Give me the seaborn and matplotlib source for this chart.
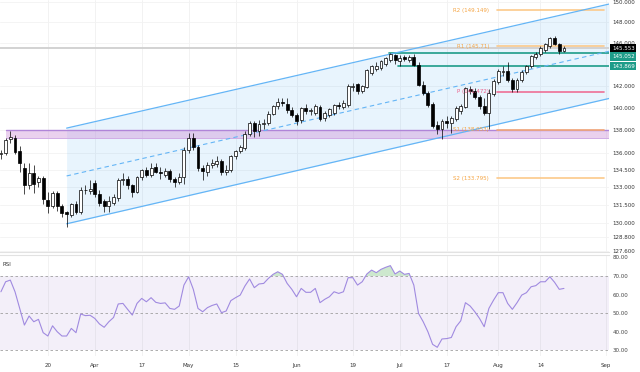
import numpy as np
import pandas as pd
import matplotlib
matplotlib.use("Agg")
import matplotlib.pyplot as plt
from matplotlib.ticker import NullLocator
import seaborn as sns

# daily candles, business days from 6 Mar 2023
opens = [135.9, 136.0, 137.2, 137.3, 136.2, 134.7, 133.2, 134.2, 133.5, 133.8,
         131.9, 131.4, 132.5, 131.4, 130.9, 130.6, 131.6, 130.9, 132.8, 132.7,
         133.4, 132.4, 131.8, 131.4, 131.7, 132.1, 133.6, 133.7, 133.2, 132.6,
         133.9, 134.5, 134.1, 134.8, 134.3, 134.1, 134.4, 133.7, 133.5, 133.9,
         136.3, 137.3, 136.5, 134.7, 134.3, 134.9, 135.0, 135.3, 134.3, 134.5,
         135.7, 136.2, 136.4, 137.7, 138.7, 137.9, 138.6, 138.7, 139.5, 140.2,
         140.6, 140.4, 139.8, 139.4, 138.9, 140.0, 139.7, 139.6, 140.1, 139.1,
         139.4, 139.6, 140.3, 140.1, 140.3, 141.9, 142.2, 141.6, 141.9, 143.2,
         143.6, 143.7, 144.1, 144.4, 144.9, 144.3, 144.7, 144.4, 144.7, 144.0,
         142.1, 141.4, 140.4, 138.5, 138.1, 138.8, 138.7, 139.0, 139.7, 140.1,
         141.7, 141.6, 141.0, 140.2, 139.6, 141.3, 142.4, 143.3, 143.4, 142.6,
         141.7, 142.6, 143.3, 143.9, 144.7, 145.0, 145.4, 145.7, 146.5, 145.9,
         145.3]
highs = [136.3, 137.3, 137.9, 137.6, 136.6, 135.1, 135.1, 134.9, 134.0, 134.0,
         132.6, 132.7, 132.7, 131.6, 131.0, 131.7, 131.8, 133.0, 133.2, 133.6,
         133.6, 132.8, 132.0, 132.3, 132.4, 133.8, 134.2, 134.0, 133.3, 134.0,
         134.6, 134.8, 135.1, 135.1, 134.8, 134.7, 134.6, 133.9, 134.2, 136.5,
         137.8, 137.8, 136.7, 134.9, 135.2, 135.5, 135.7, 135.5, 134.9, 135.8,
         136.3, 136.7, 137.9, 138.8, 138.8, 138.9, 139.0, 139.7, 140.3, 140.9,
         140.9, 140.9, 140.1, 139.6, 140.1, 140.4, 140.0, 140.4, 140.3, 139.7,
         140.0, 140.4, 140.6, 140.7, 142.2, 142.3, 142.3, 142.1, 143.6, 144.0,
         144.2, 144.4, 144.7, 145.07, 145.0, 144.9, 144.9, 144.9, 145.0, 144.2,
         142.5, 141.6, 140.6, 138.8, 139.0, 139.3, 139.3, 140.2, 140.4, 141.9,
         142.0, 141.8, 141.2, 140.9, 141.7, 142.7, 143.6, 143.9, 144.2, 142.8,
         142.8, 143.5, 144.0, 144.9, 145.2, 145.7, 146.0, 146.6, 146.7, 146.0,
         145.7]
lows = [135.5, 135.8, 136.9, 135.9, 134.3, 132.4, 132.9, 132.5, 133.0, 131.6,
        130.8, 131.2, 131.0, 130.5, 129.65, 130.5, 130.7, 130.7, 132.4, 132.4,
        132.2, 131.4, 130.9, 130.9, 131.5, 131.8, 133.2, 132.9, 132.2, 132.5,
        133.6, 133.9, 133.9, 134.2, 133.7, 133.9, 133.5, 133.0, 133.3, 133.3,
        136.0, 136.3, 134.4, 133.6, 134.0, 134.7, 134.8, 134.1, 134.1, 134.3,
        135.5, 136.0, 136.3, 137.5, 137.4, 137.5, 138.1, 138.5, 139.4, 139.9,
        140.2, 139.6, 139.2, 138.5, 138.7, 139.5, 139.4, 139.4, 138.8, 138.8,
        139.2, 139.4, 139.9, 139.9, 140.1, 141.6, 141.3, 141.4, 141.8, 143.0,
        143.4, 143.5, 143.9, 144.2, 144.1, 143.9, 144.3, 144.2, 143.9, 142.0,
        141.2, 140.1, 138.2, 137.7, 137.25, 138.2, 137.8, 138.8, 139.5, 140.0,
        141.3, 140.8, 139.9, 139.4, 138.1, 141.1, 142.2, 142.9, 142.4, 141.5,
        141.5, 142.4, 143.1, 143.7, 144.5, 144.8, 145.2, 145.6, 145.8, 145.0,
        145.2]
closes = [136.0, 137.1, 137.4, 136.1, 135.1, 133.2, 134.2, 133.3, 133.8, 132.0,
          131.4, 132.5, 131.4, 130.8, 130.7, 131.6, 130.9, 132.8, 132.75, 132.85,
          132.4, 131.7, 131.4, 131.8, 132.2, 133.6, 133.7, 133.2, 132.6, 133.9,
          134.5, 134.1, 134.7, 134.3, 134.2, 134.4, 133.7, 133.5, 133.9, 136.3,
          137.3, 136.5, 134.7, 134.4, 134.9, 135.1, 135.3, 134.3, 134.5, 135.7,
          136.2, 136.5, 137.7, 138.7, 137.9, 138.6, 138.7, 139.5, 140.2, 140.6,
          140.5, 139.8, 139.4, 138.8, 140.0, 139.7, 139.8, 140.2, 139.0, 139.6,
          139.9, 140.3, 140.2, 140.5, 142.0, 142.0, 141.6, 142.0, 143.5, 143.9,
          143.9, 144.3, 144.6, 145.0, 144.4, 144.6, 144.5, 144.7, 144.0, 142.1,
          141.4, 140.3, 138.4, 138.1, 138.8, 138.7, 139.1, 140.0, 140.2, 141.8,
          141.6, 141.0, 140.2, 139.6, 141.4, 142.5, 143.4, 143.4, 142.6, 141.7,
          142.6, 143.3, 143.9, 144.8, 145.0, 145.6, 145.9, 146.5, 145.9, 145.3,
          145.55]
rsi = [61.5, 66.9, 67.8, 61.5, 52.5, 43.5, 48.4, 45.3, 46.6, 39.4,
       37.6, 43.1, 39.9, 37.6, 37.6, 41.7, 39.4, 49.5, 48.6, 48.8,
       47.1, 44.1, 42.3, 45.3, 47.6, 54.9, 55.2, 52.0, 48.9, 55.2,
       57.9, 56.1, 58.3, 55.8, 55.2, 55.5, 52.5, 52.0, 53.8, 65.1,
       69.6, 62.8, 52.5, 50.7, 52.9, 54.1, 54.9, 50.2, 51.1, 56.7,
       58.3, 59.7, 64.6, 68.4, 63.7, 65.7, 66.0, 68.7, 70.9, 72.3,
       70.9, 66.0, 62.8, 58.8, 63.3, 61.2, 61.2, 63.3, 55.6, 57.4,
       58.8, 61.5, 60.6, 61.5, 69.1, 69.1, 65.1, 66.9, 71.1, 73.2,
       71.8, 73.6, 74.7, 75.6, 71.1, 72.7, 70.9, 71.4, 65.1, 49.8,
       45.3, 39.9, 33.1, 31.5, 36.0, 36.2, 36.8, 42.6, 45.8, 55.6,
       53.8, 50.7, 47.1, 42.6, 52.5, 57.0, 61.0, 61.0, 55.2, 52.0,
       55.6, 59.7, 61.0, 64.2, 64.8, 66.9, 66.9, 69.6, 66.6, 62.8,
       63.3]

tick_dates = ["2023-03-20", "2023-04-03", "2023-04-17", "2023-05-01", "2023-05-15", "2023-06-01",
              "2023-06-19", "2023-07-03", "2023-07-17", "2023-08-01", "2023-08-14", "2023-09-01"]
tick_labels = ["20", "Apr", "17", "May", "15", "Jun", "19", "Jul", "17", "Aug", "14", "Sep"]
price_ticks = [150, 148, 146, 142, 140, 138, 136, 134.5, 133, 131.5, 130, 128.8, 127.6]
rsi_ticks = [80, 70, 60, 50, 40, 30]

pivot_names = ["R2", "R1", "P", "S1", "S2"]
pivot_values = [149.149, 145.71, 141.472, 138.053, 133.795]
pivot_period = ["2023-08-01", "2023-08-31"]

last_price = 145.553
level_values = [145.052, 143.869]
level_dates = ["2023-06-29", "2023-07-03"]

zone_low, zone_high = 137.3, 138.0
zone_date = "2023-03-07"

channel_dates = ["2023-03-24", "2023-08-21"]
channel_upper = [138.2, 148.76]
channel_lower = [129.9, 139.93]

# ---------------------------------------------------------------------------
sns.set_style("white")
plt.rcParams["font.family"] = ["DejaVu Sans"]

days = pd.bdate_range("2023-03-06", "2023-09-29")
def pos(d):
    return days.get_loc(pd.Timestamp(d))

df = pd.DataFrame({"open": opens, "high": highs, "low": lows, "close": closes, "rsi": rsi})
df["x"] = np.arange(len(df))
XMIN, XMAX = -0.2, 129.6

fig = plt.figure(figsize=(6.4, 3.72), dpi=100)
ax = fig.add_axes([0, 1 - 252 / 372, 609 / 640, 252 / 372])
ax2 = fig.add_axes([0, 1 - 356 / 372, 609 / 640, 101 / 372], sharex=ax)

ax.set_yscale("log")

# regression channel
cx0, cx1 = pos(channel_dates[0]), pos(channel_dates[1])
def chan(vals, x):
    lv = np.log(vals)
    return np.exp(lv[0] + (lv[1] - lv[0]) * (np.asarray(x) - cx0) / (cx1 - cx0))
xs = np.array([cx0, XMAX])
up, lo = chan(channel_upper, xs), chan(channel_lower, xs)
mid = np.sqrt(up * lo)
ax.fill_between(xs, lo, up, color="#2196f3", alpha=0.1, lw=0, zorder=1)
ax.plot(xs, up, color="#64b5f6", lw=0.9, zorder=2)
ax.plot(xs, lo, color="#64b5f6", lw=0.9, zorder=2)
ax.plot(xs, mid, color="#64b5f6", lw=0.8, ls=(0, (4, 3)), zorder=2)

# support zone
zx = pos(zone_date)
ax.fill_between([zx, XMAX], zone_low, zone_high, color="#ce93d8", alpha=0.42, lw=0, zorder=1.5)
ax.plot([zx, XMAX], [zone_high, zone_high], color="#b085d8", lw=1, zorder=1.6)
ax.plot([zx, XMAX], [zone_low, zone_low], color="#d0ace6", lw=0.7, zorder=1.6)

# last price line and key levels
ax.axhline(last_price, color="#d2d2d2", lw=1.4, zorder=1.7)
for val, d in zip(level_values, level_dates):
    ax.plot([pos(d) - 0.3, XMAX], [val, val], color="#1e9c89", lw=1.2, zorder=1.8)

# pivots
px0, px1 = pos(pivot_period[0]) - 0.3, pos(pivot_period[1]) + 0.5
for name, val in zip(pivot_names, pivot_values):
    col_line = "#ef6f95" if name == "P" else "#fcc98a"
    col_txt = "#ec5f8a" if name == "P" else "#f5a442"
    if name == "S1":
        col_line = "#f2a777"
    ax.plot([px0, px1], [val, val], color=col_line, lw=1.2, zorder=1.9)
    ax.annotate(f"{name} ({val:g})", xy=(px0, val), xytext=(-5.5, 0),
                textcoords="offset points", ha="right", va="center",
                fontsize=4, color=col_txt, zorder=5)

# candles
rising = df["close"] >= df["open"]
ax.vlines(df["x"], df["low"], df["high"], color="black", lw=0.5, zorder=3)
body_lo = df[["open", "close"]].min(axis=1)
body_h = (df["close"] - df["open"]).abs().clip(lower=0.02)
ax.bar(df["x"], body_h, bottom=body_lo, width=0.62,
       color=np.where(rising, "white", "black"), edgecolor="black", lw=0.5, zorder=4)

ax.set_ylim(127.55, 150.15)
ax.set_yticks(price_ticks, labels=[f"{v:.3f}" for v in price_ticks])
ax.yaxis.set_minor_locator(NullLocator())
ax.yaxis.tick_right()
ax.tick_params(axis="y", length=0, pad=2.5, labelsize=4, labelcolor="#333333")

# right-side price boxes (the 145.052 tag is nudged down as on the chart)
boxes = [(last_price, "black", 0), (level_values[0], "#1e9c89", -2.2), (level_values[1], "#1e9c89", 0)]
for val, fc, dy in boxes:
    ax.annotate(f"{val:.3f}", xy=(1, val), xycoords=("axes fraction", "data"),
                xytext=(2.2, dy), textcoords="offset points", ha="left", va="center",
                fontsize=4, color="white", annotation_clip=False, zorder=10,
                bbox=dict(boxstyle="square,pad=0.3", fc=fc, ec="none"))

# RSI panel
ax2.axhspan(30, 70, color="#7e57c2", alpha=0.09, lw=0)
for lvl in (70, 50, 30):
    ax2.axhline(lvl, color="#a0a0a0", lw=0.6, ls=(0, (3, 3)))
r = df["rsi"].to_numpy()
ax2.fill_between(df["x"], 70, r, where=r > 70, interpolate=True, color="#a5d6a7", alpha=0.55, lw=0)
sns.lineplot(x=df["x"], y=df["rsi"], ax=ax2, color="#a08ae0", lw=0.8)
ax2.text(0.004, 0.93, "RSI", transform=ax2.transAxes, fontsize=4, va="top", color="#333333")
ax2.set_ylim(26.8, 81.35)
ax2.set_yticks(rsi_ticks, labels=[f"{v:.2f}" for v in rsi_ticks])
ax2.yaxis.tick_right()
ax2.tick_params(axis="y", length=0, pad=2.5, labelsize=4, labelcolor="#444444")
ax2.set_xlabel("")
ax2.set_ylabel("")

# shared x axis
ax2.set_xlim(XMIN, XMAX)
ax2.set_xticks([pos(d) for d in tick_dates], labels=tick_labels)
ax2.tick_params(axis="x", length=0, pad=5, labelsize=4, labelcolor="#333333")
ax.tick_params(axis="x", labelbottom=False, length=0)

for a in (ax, ax2):
    a.grid(True, axis="x", color="#f0f0f0", lw=0.6)
    for s in a.spines.values():
        s.set_visible(False)
    a.set_axisbelow(True)
ax.grid(True, axis="y", color="#f2f2f2", lw=0.6)
ax.spines["bottom"].set_visible(True)
ax.spines["bottom"].set_color("#e2e2e2")
ax2.spines["top"].set_visible(True)
ax2.spines["top"].set_color("#e2e2e2")

fig.savefig("out.png", dpi=100)
plt.close(fig)
